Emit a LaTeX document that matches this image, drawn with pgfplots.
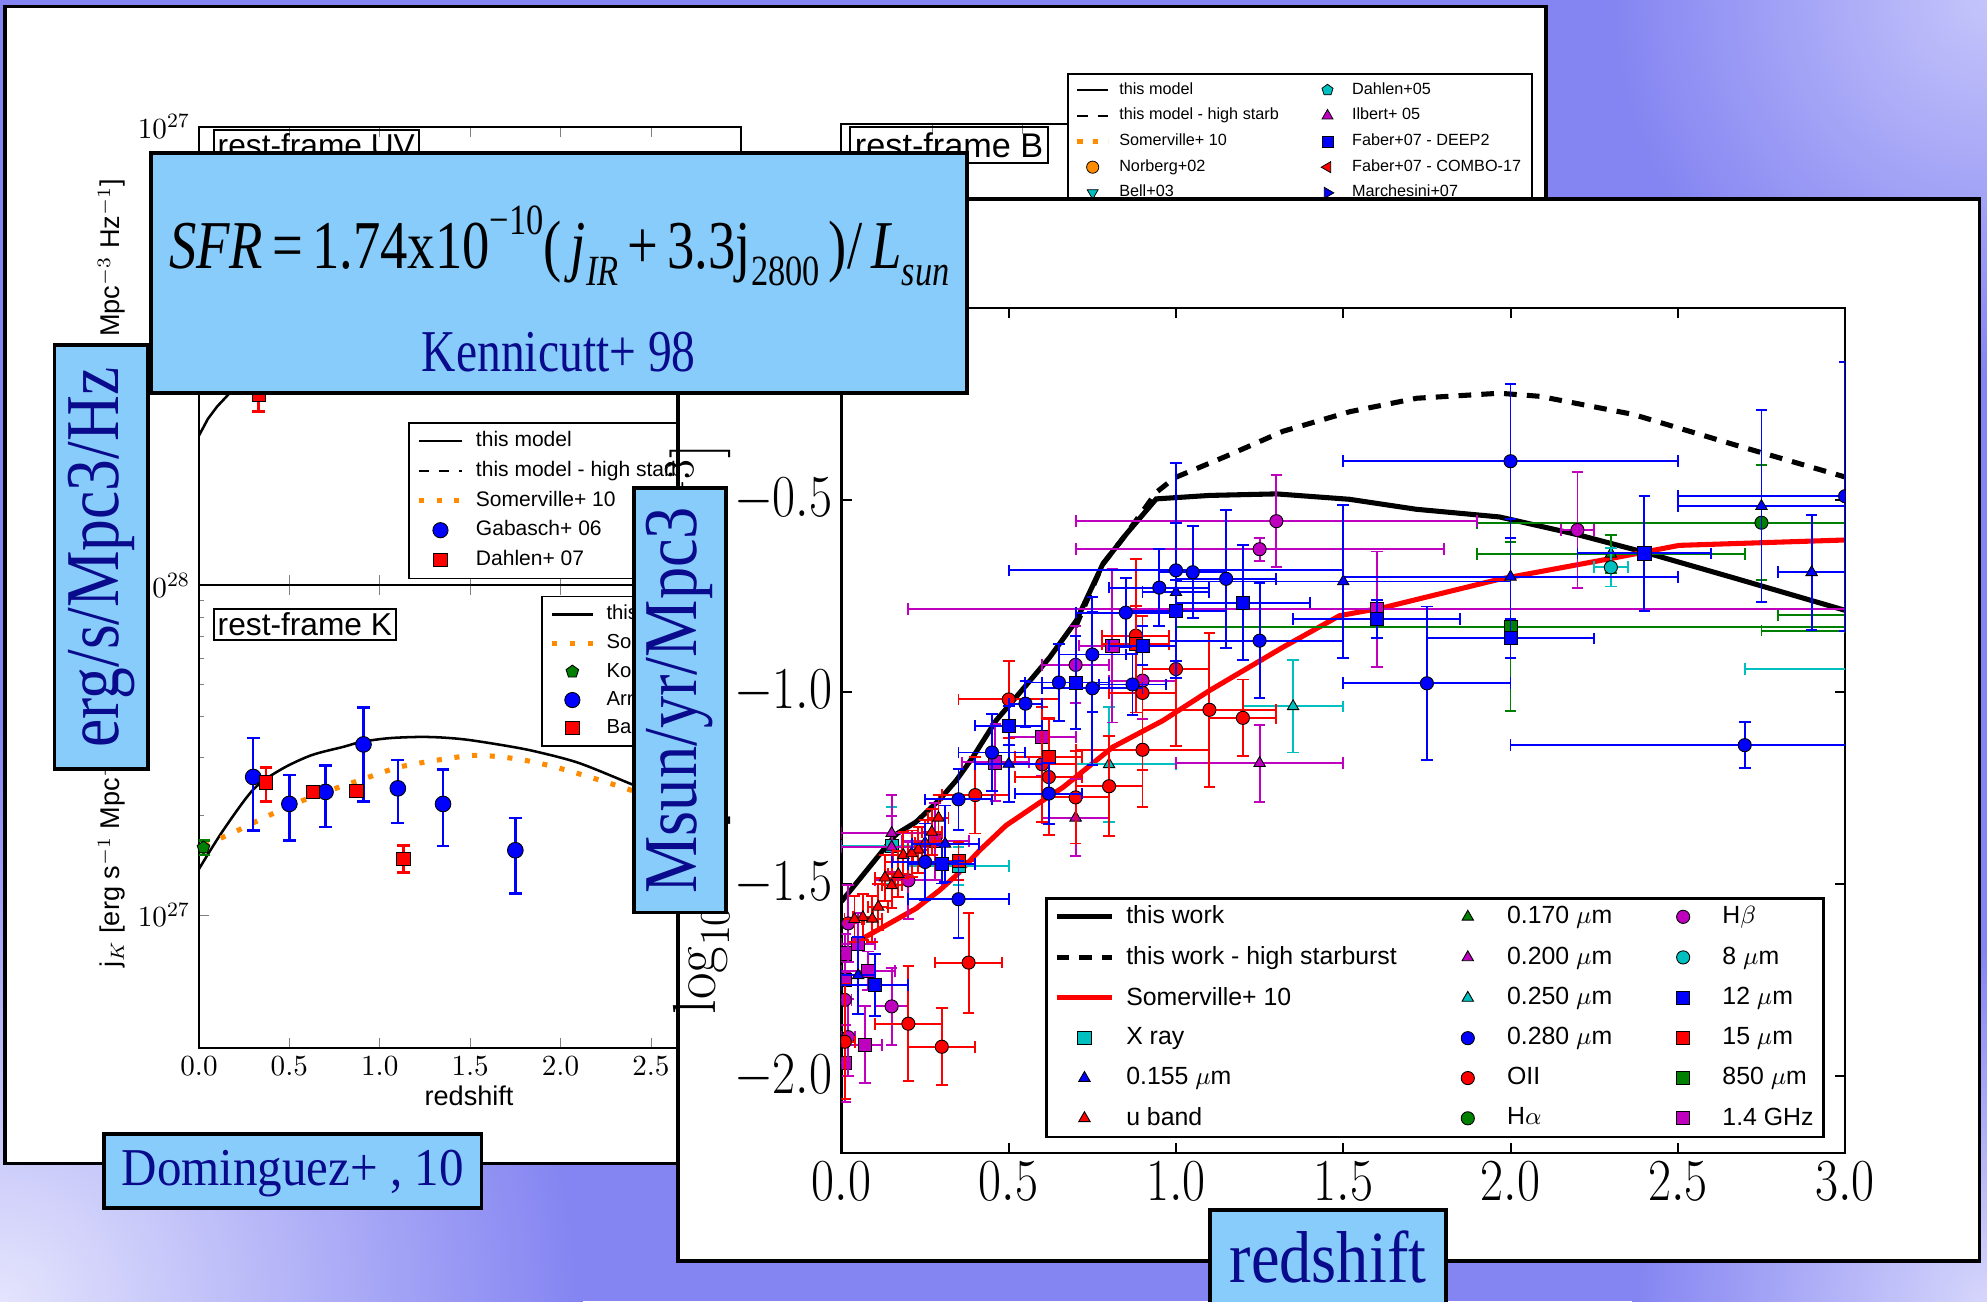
\RequirePackage{fix-cm}
\documentclass[border=0pt]{standalone}
\usepackage[no-math]{fontspec}
\setmainfont{Liberation Serif}
\newfontfamily\hv{Liberation Sans}
\usepackage{graphicx}
\usepackage{pgfplots}
\usepackage{pgfplotstable}
\pgfplotsset{compat=1.18}

\definecolor{boxblue}{RGB}{135,204,250}
\definecolor{navytext}{RGB}{10,10,140}
\definecolor{mblue}{RGB}{0,0,255}
\definecolor{mred}{RGB}{255,0,0}
\definecolor{mmag}{RGB}{191,0,191}
\definecolor{mcyan}{RGB}{0,191,191}
\definecolor{mgreen}{RGB}{0,128,0}
\definecolor{morange}{RGB}{255,140,0}
\definecolor{bgBase}{RGB}{132,132,242}
\definecolor{bgTR}{RGB}{196,196,251}
\definecolor{bgBL}{RGB}{228,228,253}
\definecolor{bgBR}{RGB}{214,214,252}

\pgfplotsset{
  % data point with symmetric x/y error bars
  sfrpt/.style n args={3}{only marks, forget plot, color=#1, mark=#2, mark size=2.6pt,
    mark options={draw=black, fill=#1, line width=0.35pt, #3},
    error bars/.cd, x dir=both, y dir=both, x explicit, y explicit,
    error bar style={line width=0.75pt, color=#1},
    error mark options={rotate=90, mark size=2.3pt, line width=0.75pt, color=#1}},
  % legend marker only
  lgpt/.style n args={3}{only marks, mark=#2, mark size=2.6pt,
    mark options={draw=black, fill=#1, line width=0.35pt, #3}},
  % K-band points with asymmetric y errors
  kpt/.style n args={3}{only marks, forget plot, color=#1, mark=#2, mark size=#3,
    mark options={draw=black, fill=#1, line width=0.35pt},
    error bars/.cd, y dir=both, y explicit,
    error bar style={line width=1pt, color=#1},
    error mark options={rotate=90, mark size=2.5pt, line width=1pt, color=#1}},
}

% ---------- SFR density compilation (x, log10 SFRD, xerr, yerr) ----------
\pgfplotstableread{
x y ex ey
1.00 -0.683 0.50 0.28
0.95 -0.728 0.15 0.10
1.05 -0.688 0.10 0.12
1.15 -0.705 0.15 0.18
0.85 -0.793 0.15 0.09
0.75 -0.902 0.10 0.15
0.65 -0.975 0.10 0.10
0.75 -0.990 0.15 0.20
0.87 -0.980 0.10 0.08
0.55 -1.030 0.05 0.06
0.45 -1.157 0.10 0.10
0.62 -1.264 0.10 0.08
0.35 -1.279 0.10 0.08
0.25 -1.442 0.10 0.10
0.35 -1.539 0.15 0.10
1.25 -0.866 0.25 0.15
1.75 -0.977 0.25 0.20
2.00 -0.399 0.50 0.20
2.70 -1.138 0.70 0.06
3.00 -0.490 0.50 0.35
}\tblUVc
\pgfplotstableread{
x y ex ey
1.00 -0.788 0.15 0.08
1.20 -0.767 0.20 0.15
0.90 -0.879 0.10 0.05
0.70 -0.975 0.10 0.12
0.50 -1.087 0.10 0.05
0.30 -1.448 0.10 0.05
0.10 -1.762 0.10 0.08
1.60 -0.810 0.25 0.05
2.40 -0.639 0.20 0.15
2.00 -0.860 0.25 0.05
}\tblMIRa
\pgfplotstableread{
x y ex ey
1.00 -0.740 0.10 0.18
1.50 -0.712 0.50 0.20
0.50 -1.187 0.10 0.10
0.31 -1.395 0.10 0.10
0.05 -1.737 0.05 0.10
2.00 -0.700 0.50 0.15
2.75 -0.516 0.25 0.25
2.90 -0.688 0.10 0.15
}\tblUVa
\pgfplotstableread{
x y ex ey
0.88 -0.853 0.10 0.20
1.00 -0.940 0.10 0.20
0.90 -1.002 0.10 0.20
0.50 -1.019 0.15 0.10
0.60 -1.188 0.10 0.15
0.62 -1.221 0.10 0.15
0.90 -1.150 0.20 0.15
0.80 -1.245 0.10 0.13
0.70 -1.274 0.10 0.12
0.40 -1.268 0.10 0.10
1.10 -1.046 0.20 0.20
1.20 -1.067 0.10 0.10
0.38 -1.704 0.10 0.13
0.20 -1.863 0.10 0.15
0.30 -1.923 0.10 0.10
0.01 -1.910 0.03 0.15
}\tblOII
\pgfplotstableread{
x y ex ey
0.88 -0.875 0.10 0.10
0.62 -1.168 0.10 0.10
0.35 -1.440 0.05 0.05
}\tblMIRb
\pgfplotstableread{
x y ex ey
0.290 -1.327 0.03 0.06
0.270 -1.364 0.03 0.06
0.250 -1.392 0.03 0.06
0.230 -1.410 0.03 0.06
0.185 -1.424 0.03 0.06
0.210 -1.420 0.03 0.06
0.130 -1.483 0.03 0.06
0.170 -1.474 0.03 0.06
0.150 -1.503 0.03 0.06
0.110 -1.559 0.03 0.06
0.064 -1.586 0.03 0.06
0.092 -1.590 0.03 0.06
0.039 -1.591 0.03 0.06
}\tblUband
\pgfplotstableread{
x y ex ey
0.15 -1.367 0.15 0.10
0.15 -1.403 0.15 0.08
0.70 -1.327 0.10 0.10
1.25 -1.185 0.25 0.10
}\tblUVb
\pgfplotstableread{
x y ex ey
0.80 -1.188 0.20 0.15
1.35 -1.037 0.15 0.12
3.30 -0.940 0.60 0.05
}\tblUVd
\pgfplotstableread{
x y ex ey
2.30 -0.640 0.40 0.05
3.40 -0.800 0.60 0.05
}\tblUVe
\pgfplotstableread{
x y ex ey
1.30 -0.555 0.60 0.12
1.25 -0.628 0.55 0.03
0.70 -0.929 0.10 0.10
0.90 -0.970 0.10 0.10
2.20 -0.578 0.05 0.15
0.20 -1.490 0.10 0.10
0.02 -1.602 0.03 0.10
0.01 -1.801 0.02 0.10
0.15 -1.818 0.05 0.10
0.02 -1.898 0.02 0.10
}\tblHb
\pgfplotstableread{
x y ex ey
2.30 -0.675 0.05 0.05
}\tblEight
\pgfplotstableread{
x y ex ey
0.35 -1.452 0.15 0.05
0.15 -1.400 0.15 0.10
}\tblXray
\pgfplotstableread{
x y ex ey
2.75 -0.559 0.85 0.15
}\tblHa
\pgfplotstableread{
x y ex ey
2.00 -0.830 1.00 0.22
3.50 -0.840 0.75 0.05
}\tblSubmm
\pgfplotstableread{
x y ex ey
0.81 -0.879 0.10 0.20
0.60 -1.117 0.10 0.10
0.46 -1.183 0.10 0.10
0.28 -1.388 0.10 0.10
0.05 -1.656 0.05 0.08
0.01 -1.680 0.02 0.05
0.08 -1.725 0.08 0.05
0.07 -1.918 0.05 0.10
0.01 -1.966 0.02 0.10
0.01 -1.750 0.02 0.05
1.60 -0.784 1.40 0.15
}\tblRadio

% ---------- rest-frame K luminosity density ----------
\pgfplotstableread{
x y ep em
0.30 2.62e27 0.82e27 0.82e27
0.50 2.17e27 0.49e27 0.49e27
0.70 2.36e27 0.48e27 0.51e27
0.91 3.29e27 0.97e27 1.08e27
1.10 2.42e27 0.53e27 0.52e27
1.35 2.17e27 0.59e27 0.55e27
1.75 1.57e27 0.40e27 0.41e27
}\tblArnouts
\pgfplotstableread{
x y ep em
0.37 2.52e27 0.275e27 0.315e27
0.63 2.36e27 0.05e27 0.05e27
0.87 2.38e27 0.05e27 0.05e27
1.13 1.48e27 0.146e27 0.136e27
}\tblBarro
\pgfplotstableread{
x y ep em
0.025 1.60e27 0.08e27 0.08e27
}\tblKochanek

\begin{document}
\begin{tikzpicture}
\useasboundingbox (0pt,0pt) rectangle (784pt,-513.5pt);
\clip (0pt,0pt) rectangle (784pt,-513.5pt);
% slide background
\fill[bgBase] (0pt,0pt) rectangle (784pt,-513.5pt);
\shade[inner color=bgBL, outer color=bgBase] (0pt,-513.5pt) circle (230pt);
\shade[inner color=bgTR, outer color=bgBase] (784pt,0pt) circle (150pt);
\shade[inner color=bgBR, outer color=bgBase] (784pt,-513.5pt) circle (140pt);

% ================= left sheet =================
\draw[fill=white, line width=1.4pt] (2pt,-2.5pt) rectangle (610pt,-459pt);

% rest-frame UV panel
\begin{axis}[
  at={(78.5pt,-231pt)}, anchor=south west, scale only axis,
  width=214pt, height=181pt,
  xmin=0, xmax=3, ymode=log, ymin=1.122e26, ymax=1e27, ytick={1e27},
  xtick={0,0.5,...,3}, xticklabels={},
  tick align=inside, tick pos=both, major tick length=4pt, minor tick length=2pt,
  axis line style={line width=0.8pt},
  tick label style={font=\fontsize{11.5}{13}\selectfont},
  ylabel={j$_{\mathit{UV}}$ [erg s$^{-1}$ Mpc$^{-3}$ Hz$^{-1}$]},
  ylabel style={font=\hv\fontsize{10.7}{12}\selectfont, at={(axis description cs:-0.161,0.544)}, anchor=center},
  legend image code/.code={\path[draw=none, fill=none] (0pt,-1pt) rectangle (17pt,1pt);
    \draw[mark repeat=2,mark phase=2,#1] plot coordinates {(0pt,0pt) (8.5pt,0pt) (17pt,0pt)};},
  legend cell align=left,
  legend style={at={(0.3855,0.356)}, anchor=north west, draw=black, line width=0.6pt,
    font=\hv\fontsize{8.3}{9.5}\selectfont, row sep=1.2pt, nodes={inner sep=1.5pt},
    /tikz/every odd column/.append style={column sep=3pt}},
]
\addlegendimage{black, line width=1pt}
\addlegendentry{this model}
\addlegendimage{black, line width=1pt, dash pattern=on 4pt off 4pt}
\addlegendentry{this model - high starburst}
\addlegendimage{morange, line width=2pt, dash pattern=on 2pt off 5pt}
\addlegendentry{Somerville+ 10}
\addlegendimage{only marks, mark=*, mark size=3pt, mark options={draw=black, fill=mblue, line width=0.35pt}}
\addlegendentry{Gabasch+ 06}
\addlegendimage{only marks, mark=square*, mark size=2.6pt, mark options={draw=black, fill=mred, line width=0.35pt}}
\addlegendentry{Dahlen+ 07}
\addplot[black, line width=1pt, forget plot] coordinates {
 (0,2.291e26) (0.05,2.483e26) (0.1,2.630e26) (0.2,2.884e26) (0.35,3.311e26)
 (0.6,3.981e26) (1,5.012e26) (1.5,5.623e26) (2,5.370e26) (3,4.467e26)};
\addplot[kpt={mred}{square*}{2.6pt}] table[x=x, y=y, y error plus=ep, y error minus=em] {
x y ep em
0.33 2.78e26 0.205e26 0.21e26
};
\node[draw, line width=0.7pt, anchor=north west, inner sep=1.5pt, font=\hv\fontsize{12.5}{14}\selectfont]
  at (rel axis cs:0.026,0.995) {rest-frame UV};
\end{axis}

% rest-frame K panel
\begin{axis}[
  at={(78.5pt,-413.5pt)}, anchor=south west, scale only axis,
  width=214pt, height=182.5pt,
  xmin=0, xmax=3, ymode=log, ymin=3.945e26, ymax=1e28, ytick={1e27,1e28},
  xtick={0,0.5,...,2.5},
  xticklabel={$\pgfmathprintnumber[fixed,fixed zerofill,precision=1]{\tick}$},
  tick align=inside, tick pos=both, major tick length=4pt, minor tick length=2pt,
  axis line style={line width=0.8pt},
  tick label style={font=\fontsize{11.5}{13}\selectfont},
  xlabel={redshift},
  xlabel style={font=\hv\fontsize{10.7}{12}\selectfont, at={(axis description cs:0.498,-0.104)}, anchor=center},
  ylabel={j$_{K}$ [erg s$^{-1}$ Mpc$^{-3}$ Hz$^{-1}$]},
  ylabel style={font=\hv\fontsize{10.7}{12}\selectfont, at={(axis description cs:-0.161,0.493)}, anchor=center},
  legend image code/.code={\path[draw=none, fill=none] (0pt,-1pt) rectangle (16pt,1pt);
    \draw[mark repeat=2,mark phase=2,#1] plot coordinates {(0pt,0pt) (8pt,0pt) (16pt,0pt)};},
  legend cell align=left,
  legend style={at={(0.631,0.978)}, anchor=north west, draw=black, line width=0.6pt,
    font=\hv\fontsize{8}{9.5}\selectfont, row sep=1pt, nodes={inner sep=1.5pt},
    /tikz/every odd column/.append style={column sep=3pt}},
]
\addlegendimage{black, line width=1pt}
\addlegendentry{this model}
\addlegendimage{morange, line width=2pt, dash pattern=on 2pt off 5pt}
\addlegendentry{Somerville+ 10}
\addlegendimage{only marks, mark=pentagon*, mark size=2.6pt, mark options={draw=black, fill=mgreen, line width=0.35pt}}
\addlegendentry{Kochanek+ 01}
\addlegendimage{only marks, mark=*, mark size=3pt, mark options={draw=black, fill=mblue, line width=0.35pt}}
\addlegendentry{Arnouts+ 07}
\addlegendimage{only marks, mark=square*, mark size=2.6pt, mark options={draw=black, fill=mred, line width=0.35pt}}
\addlegendentry{Barro+ 09}
\addplot[black, line width=1pt, smooth, forget plot] coordinates {
 (0,1.377e27) (0.13,1.791e27) (0.3,2.399e27) (0.45,2.754e27) (0.62,3.048e27)
 (0.8,3.236e27) (0.9,3.350e27) (1.05,3.436e27) (1.22,3.467e27) (1.35,3.451e27)
 (1.49,3.396e27) (1.7,3.258e27) (1.86,3.133e27) (2.1,2.891e27) (2.39,2.495e27)
 (2.6,2.239e27) (3.0,1.820e27)};
\addplot[morange, line width=2pt, dash pattern=on 2pt off 5pt, smooth, forget plot] coordinates {
 (0.03,1.629e27) (0.18,1.766e27) (0.38,1.995e27) (0.62,2.275e27) (0.95,2.630e27)
 (1.12,2.818e27) (1.36,2.972e27) (1.54,3.048e27) (1.76,2.972e27) (1.96,2.818e27)
 (2.18,2.600e27) (2.38,2.399e27) (2.6,2.188e27) (3.0,1.862e27)};
\addplot[kpt={mgreen}{pentagon*}{2.6pt}] table[x=x, y=y, y error plus=ep, y error minus=em] {\tblKochanek};
\addplot[kpt={mblue}{*}{3.1pt}] table[x=x, y=y, y error plus=ep, y error minus=em] {\tblArnouts};
\addplot[kpt={mred}{square*}{2.65pt}] table[x=x, y=y, y error plus=ep, y error minus=em] {\tblBarro};
\node[draw, line width=0.7pt, anchor=north west, inner sep=1.5pt, font=\hv\fontsize{12.5}{14}\selectfont]
  at (rel axis cs:0.026,0.951) {rest-frame K};
\end{axis}

% rest-frame B panel (mostly covered)
\begin{axis}[
  at={(332pt,-231pt)}, anchor=south west, scale only axis,
  width=214pt, height=182pt,
  xmin=0, xmax=3, ymin=0, ymax=1,
  xtick={0,0.5,...,3}, ytick=\empty, xticklabels={},
  tick align=inside, tick pos=both, major tick length=4pt,
  axis line style={line width=0.8pt},
  legend columns=2,
  legend image code/.code={\path[draw=none, fill=none] (0pt,-1pt) rectangle (12pt,1pt);
    \draw[mark repeat=2,mark phase=2,#1] plot coordinates {(0pt,0pt) (6pt,0pt) (12pt,0pt)};},
  legend cell align=left,
  legend style={at={(0.416,1.11)}, anchor=north west, draw=black, line width=0.6pt,
    font=\hv\fontsize{6.4}{7.2}\selectfont, row sep=1.6pt, nodes={inner sep=1.2pt},
    /tikz/every odd column/.append style={column sep=2.5pt},
    /tikz/every even column/.append style={column sep=12pt}},
]
\addlegendimage{black, line width=0.8pt}
\addlegendentry{this model}
\addlegendimage{only marks, mark=pentagon*, mark size=2.3pt, mark options={draw=black, fill=mcyan, line width=0.3pt}}
\addlegendentry{Dahlen+05}
\addlegendimage{black, line width=0.8pt, dash pattern=on 4pt off 4pt}
\addlegendentry{this model - high starb}
\addlegendimage{only marks, mark=triangle*, mark size=2.5pt, mark options={draw=black, fill=mmag, line width=0.3pt}}
\addlegendentry{Ilbert+ 05}
\addlegendimage{morange, line width=1.6pt, dash pattern=on 2pt off 4pt}
\addlegendentry{Somerville+ 10}
\addlegendimage{only marks, mark=square*, mark size=2.2pt, mark options={draw=black, fill=mblue, line width=0.3pt}}
\addlegendentry{Faber+07 - DEEP2}
\addlegendimage{only marks, mark=*, mark size=2.4pt, mark options={draw=black, fill=morange, line width=0.3pt}}
\addlegendentry{Norberg+02}
\addlegendimage{only marks, mark=triangle*, mark size=2.5pt, mark options={draw=black, fill=mred, line width=0.3pt, rotate=90}}
\addlegendentry{Faber+07 - COMBO-17}
\addlegendimage{only marks, mark=triangle*, mark size=2.5pt, mark options={draw=black, fill=mcyan, line width=0.3pt, rotate=180}}
\addlegendentry{Bell+03}
\addlegendimage{only marks, mark=triangle*, mark size=2.5pt, mark options={draw=black, fill=mblue, line width=0.3pt, rotate=-90}}
\addlegendentry{Marchesini+07}
\node[draw, line width=0.7pt, anchor=north west, inner sep=2pt, font=\hv\fontsize{13.5}{15}\selectfont]
  at (rel axis cs:0.014,0.995) {rest-frame B};
\end{axis}

% ================= right sheet =================
\draw[fill=white, line width=1.4pt] (267.5pt,-78.5pt) rectangle (781pt,-497.5pt);

\begin{axis}[
  at={(332pt,-455pt)}, anchor=south west, scale only axis,
  width=396pt, height=333.5pt,
  xmin=0, xmax=3, ymin=-2.2, ymax=0,
  xtick={0,0.5,1,1.5,2,2.5,3}, ytick={-2,-1.5,-1,-0.5},
  tick align=inside, tick pos=both, major tick length=4pt,
  axis line style={line width=1pt},
  every tick/.style={black, line width=0.8pt},
  tick label style={font=\fontsize{23.5}{28}\selectfont},
  xticklabel={\scalebox{0.84}[1]{$\pgfmathprintnumber[fixed,fixed zerofill,precision=1]{\tick}$}},
  yticklabel={\scalebox{0.84}[1]{$\pgfmathprintnumber[fixed,fixed zerofill,precision=1]{\tick}$}},
  clip marker paths=true,
  ylabel={\resizebox{225pt}{\height}{$\log_{10}\dot{\rho}_{*}\ [\mathrm{M_{\odot}\,yr^{-1}\,Mpc^{-3}}]$}},
  ylabel style={font=\fontsize{24}{28}\selectfont, at={(axis description cs:-0.143,0.502)}, anchor=center},
  legend columns=3,
  legend image code/.code={\path[draw=none, fill=none] (0pt,-1pt) rectangle (22pt,1pt);
    \draw[mark repeat=2,mark phase=2,#1] plot coordinates {(0pt,0pt) (11pt,0pt) (22pt,0pt)};},
  legend cell align=left,
  legend style={at={(0.203,0.303)}, anchor=north west, draw=black, line width=1pt,
    font=\hv\fontsize{9.8}{11}\selectfont, row sep=5.4pt, nodes={inner sep=1pt},
    /tikz/every odd column/.append style={column sep=3.5pt},
    /tikz/every even column/.append style={column sep=16pt}},
]
% legend, row by row
\addlegendimage{black, line width=2pt}
\addlegendentry{this work}
\addlegendimage{lgpt={mgreen}{triangle*}{}}
\addlegendentry{0.170 $\mu$m}
\addlegendimage{lgpt={mmag}{*}{}}
\addlegendentry{H$\beta$}
\addlegendimage{black, line width=2pt, dash pattern=on 5pt off 4pt}
\addlegendentry{this work - high starburst}
\addlegendimage{lgpt={mmag}{triangle*}{}}
\addlegendentry{0.200 $\mu$m}
\addlegendimage{lgpt={mcyan}{*}{}}
\addlegendentry{8 $\mu$m}
\addlegendimage{mred, line width=2pt}
\addlegendentry{Somerville+ 10}
\addlegendimage{lgpt={mcyan}{triangle*}{}}
\addlegendentry{0.250 $\mu$m}
\addlegendimage{lgpt={mblue}{square*}{}}
\addlegendentry{12 $\mu$m}
\addlegendimage{lgpt={mcyan}{square*}{}}
\addlegendentry{X ray}
\addlegendimage{lgpt={mblue}{*}{}}
\addlegendentry{0.280 $\mu$m}
\addlegendimage{lgpt={mred}{square*}{}}
\addlegendentry{15 $\mu$m}
\addlegendimage{lgpt={mblue}{triangle*}{}}
\addlegendentry{0.155 $\mu$m}
\addlegendimage{lgpt={mred}{*}{}}
\addlegendentry{OII}
\addlegendimage{lgpt={mgreen}{square*}{}}
\addlegendentry{850 $\mu$m}
\addlegendimage{lgpt={mred}{triangle*}{}}
\addlegendentry{u band}
\addlegendimage{lgpt={mgreen}{*}{}}
\addlegendentry{H$\alpha$}
\addlegendimage{lgpt={mmag}{square*}{}}
\addlegendentry{1.4 GHz}

% model curves
\addplot[black, line width=2pt, dash pattern=on 5pt off 4pt, forget plot] coordinates {
 (0.70,-0.83) (0.781,-0.667) (0.851,-0.589) (0.941,-0.48) (0.996,-0.442) (1.15,-0.386)
 (1.32,-0.321) (1.52,-0.27) (1.72,-0.235) (1.967,-0.222) (2.087,-0.23)
 (2.366,-0.277) (2.665,-0.355) (3.0,-0.44)};
\addplot[black, line width=2pt, forget plot] coordinates {
 (0,-1.545) (0.163,-1.37) (0.223,-1.338) (0.293,-1.28) (0.343,-1.23) (0.393,-1.169)
 (0.462,-1.074) (0.522,-1.013) (0.622,-0.91) (0.702,-0.814) (0.781,-0.667)
 (0.851,-0.589) (0.941,-0.497) (1.1,-0.488) (1.3,-0.484) (1.518,-0.498)
 (1.718,-0.524) (1.967,-0.544) (2.2,-0.59) (2.405,-0.637) (2.665,-0.702) (3.0,-0.787)};
\addplot[mred, line width=2pt, forget plot] coordinates {
 (0.044,-1.654) (0.064,-1.641) (0.223,-1.563) (0.293,-1.516) (0.343,-1.477)
 (0.413,-1.412) (0.492,-1.347) (0.602,-1.282) (0.662,-1.248) (0.811,-1.143)
 (0.961,-1.074) (1.10,-0.996) (1.32,-0.883) (1.489,-0.801) (1.62,-0.78)
 (1.967,-0.706) (2.295,-0.653) (2.504,-0.618) (3.0,-0.604)};

% observational compilation
\addplot[sfrpt={mgreen}{square*}{}]   table[x=x,y=y,x error=ex,y error=ey] {\tblSubmm};
\addplot[sfrpt={mgreen}{*}{}]         table[x=x,y=y,x error=ex,y error=ey] {\tblHa};
\addplot[sfrpt={mgreen}{triangle*}{}] table[x=x,y=y,x error=ex,y error=ey] {\tblUVe};
\addplot[sfrpt={mcyan}{triangle*}{}]  table[x=x,y=y,x error=ex,y error=ey] {\tblUVd};
\addplot[sfrpt={mcyan}{square*}{}]    table[x=x,y=y,x error=ex,y error=ey] {\tblXray};
\addplot[sfrpt={mcyan}{*}{}]          table[x=x,y=y,x error=ex,y error=ey] {\tblEight};
\addplot[sfrpt={mmag}{triangle*}{}]   table[x=x,y=y,x error=ex,y error=ey] {\tblUVb};
\addplot[sfrpt={mmag}{square*}{}]     table[x=x,y=y,x error=ex,y error=ey] {\tblRadio};
\addplot[sfrpt={mmag}{*}{}]           table[x=x,y=y,x error=ex,y error=ey] {\tblHb};
\addplot[sfrpt={mred}{*}{}]           table[x=x,y=y,x error=ex,y error=ey] {\tblOII};
\addplot[sfrpt={mred}{square*}{}]     table[x=x,y=y,x error=ex,y error=ey] {\tblMIRb};
\addplot[sfrpt={mred}{triangle*}{}]   table[x=x,y=y,x error=ex,y error=ey] {\tblUband};
\addplot[sfrpt={mblue}{triangle*}{}]  table[x=x,y=y,x error=ex,y error=ey] {\tblUVa};
\addplot[sfrpt={mblue}{square*}{}]    table[x=x,y=y,x error=ex,y error=ey] {\tblMIRa};
\addplot[sfrpt={mblue}{*}{}]          table[x=x,y=y,x error=ex,y error=ey] {\tblUVc};
\end{axis}

% ================= labels on top =================
\draw[fill=boxblue, line width=1.5pt] (59.5pt,-60.5pt) rectangle (381.5pt,-155pt);
\node[anchor=base, inner sep=0pt] at (220.7pt,-106pt) {\resizebox{308pt}{\height}{\fontsize{27}{30}\selectfont
  \textit{SFR}\,=\,1.74x10\raisebox{0.5em}{\fontsize{17}{17}\selectfont −10}(\,\textit{j}\raisebox{-0.25em}{\fontsize{17}{17}\selectfont\textit{IR}}\,+\,3.3j\raisebox{-0.25em}{\fontsize{17}{17}\selectfont 2800}\,)/\,\textit{L}\raisebox{-0.25em}{\fontsize{17}{17}\selectfont\textit{sun}}}};
\node[anchor=base, inner sep=0pt, text=navytext] at (220.5pt,-146.5pt)
  {\resizebox{108pt}{\height}{\fontsize{23.4}{26}\selectfont Kennicutt+ 98}};

\draw[fill=boxblue, line width=1.5pt] (21.5pt,-136pt) rectangle (58.5pt,-303.5pt);
\node[rotate=90, inner sep=0pt, text=navytext] at (40pt,-220pt)
  {\resizebox{150pt}{\height}{\fontsize{30}{32}\selectfont erg/s/Mpc3/Hz}};

\draw[fill=boxblue, line width=1.5pt] (250pt,-192.5pt) rectangle (286.5pt,-360pt);
\node[rotate=90, inner sep=0pt, text=navytext] at (268.25pt,-276.25pt)
  {\resizebox{152.5pt}{\height}{\fontsize{30}{32}\selectfont Msun/yr/Mpc3}};

\draw[fill=boxblue, line width=1.5pt] (41pt,-447.5pt) rectangle (190pt,-476.5pt);
\node[inner sep=0pt, text=navytext] at (115.5pt,-463pt)
  {\resizebox{135pt}{\height}{\fontsize{21}{24}\selectfont Dominguez+ , 10}};

\draw[fill=boxblue, line width=1.5pt] (477.5pt,-477.5pt) rectangle (570.5pt,-520pt);
\node[anchor=base, inner sep=0pt, text=navytext] at (524pt,-506pt)
  {\resizebox{77.5pt}{\height}{\fontsize{29}{32}\selectfont redshift}};
\end{tikzpicture}
\end{document}
